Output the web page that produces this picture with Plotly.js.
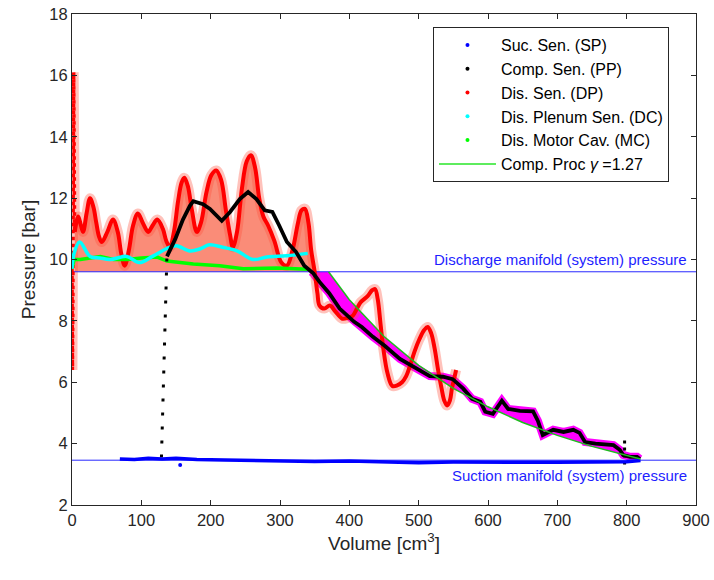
<!DOCTYPE html>
<html>
<head>
<meta charset="utf-8">
<script src="https://cdn.plot.ly/plotly-3.0.1.min.js"></script>
<style>html,body{margin:0;padding:0;background:#fff;}#chart{width:714px;height:580px;}</style>
</head>
<body>
<div id="chart"></div>
<script>
// ---- Data ----
// Discharge sensor (DP): spike at start, wave segment above manifold, tail below
var dpSpikeVol = [0, 0.6, 1.2, 1.8, 2.4, 3.0, 3.6, 4.2];
var dpSpikeP   = [9.7, 6.4, 8.5, 12.5, 16.1, 14.0, 11.5, 10.9];
var dpVolA = [4, 9, 13, 16, 21, 26, 31, 35, 39, 43, 51, 59, 66, 71, 76, 82, 88, 95, 102, 110, 116, 123, 131, 136, 141,
              147, 153, 158, 162, 167, 173, 180, 186, 194, 201, 208, 215, 222, 228, 232, 238, 245, 252, 258, 264, 270,
              276, 283, 292, 302, 310, 318, 326, 331, 336, 341, 345, 350];
var dpPA   = [10.9, 11.4, 11.1, 10.9, 11.5, 12.0, 11.7, 11.2, 10.75, 10.57, 10.9, 11.3, 10.9, 10.2, 9.8, 10.3, 11.1, 11.5, 11.2, 10.9, 11.1, 11.3, 11.0, 10.6, 10.4,
              10.9, 11.9, 12.5, 12.66, 12.4, 11.6, 10.9, 11.2, 12.2, 12.75, 12.9, 12.6, 11.6, 10.8, 10.4, 10.9, 12.3, 13.2, 13.4, 13.0, 12.0,
              11.4, 11.1, 10.6, 9.9, 9.8, 10.3, 11.2, 11.6, 11.65, 11.2, 10.3, 9.6];
var dpVolB = [350, 354, 357, 364, 372, 380, 390, 398, 405, 411, 416, 426, 433, 437, 441, 445, 449, 455, 462, 469, 476, 482, 487,
              494, 501, 508, 513, 518, 523, 528, 533, 537, 541, 545, 548, 551, 554];
var dpPB   = [9.6, 8.9, 8.5, 8.4, 8.5, 8.3, 8.07, 8.1, 8.17, 8.4, 8.6, 8.8, 9.0, 9.04, 8.7, 7.9, 7.1, 6.3, 5.88, 5.9, 6.0, 6.2, 6.5,
              7.0, 7.4, 7.7, 7.8, 7.6, 7.1, 6.4, 5.8, 5.4, 5.24, 5.4, 5.8, 6.1, 6.4];

// Discharge plenum sensor (DC)
var dcVol = [0, 3, 11, 26, 40, 55, 79, 97, 116, 141, 151, 170, 185, 198, 217, 238, 261, 281, 310, 340];
var dcP   = [9.7, 10.2, 10.57, 10.1, 10.05, 10.0, 10.1, 9.9, 10.1, 10.4, 10.45, 10.28, 10.35, 10.48, 10.4, 10.28, 10.0, 10.08, 10.12, 10.2];

// Discharge motor cavity (MC)
var mcVol = [0, 3, 12, 41, 60, 80, 100, 123, 137, 175, 213, 247, 295, 328, 340];
var mcP   = [9.7, 10.0, 10.0, 10.1, 10.0, 10.0, 10.05, 10.08, 9.95, 9.85, 9.8, 9.7, 9.72, 9.7, 9.68];

// Compression chamber sensor (PP)
var ppRiseVol = [129, 133, 137];
var ppRiseP   = [3.55, 7.0, 10.2];
var ppVol = [137, 149, 160, 170, 175, 189, 199, 216, 228, 242, 254, 266, 278, 289, 299, 310, 323, 335, 348,
             357, 371, 386, 407, 418, 434, 451, 473, 493, 516, 535, 549, 564, 577, 589, 596, 607, 620, 629, 646,
             665, 672, 679, 694, 709, 723, 732, 740, 755, 772, 781, 790, 795, 805, 815, 819];
var ppP   = [10.1, 10.67, 11.3, 11.75, 11.9, 11.8, 11.65, 11.26, 11.55, 11.97, 12.2, 11.97, 11.6, 11.55, 11.1, 10.57, 10.25, 9.8, 9.55,
             9.27, 8.9, 8.4, 7.97, 7.8, 7.48, 7.19, 6.76, 6.5, 6.2, 6.18, 6.1, 5.8, 5.46, 5.36, 5.04, 4.97, 5.4, 5.13, 5.07,
             5.05, 4.74, 4.28, 4.45, 4.38, 4.45, 4.35, 4.05, 4.0, 3.95, 3.95, 3.8, 3.63, 3.57, 3.57, 3.5];
var ppEndVol = [797, 797];
var ppEndP   = [4.1, 3.3];

// Suction sensor (SP)
var spVol = [69, 90, 110, 130, 150, 180, 220, 260, 300, 350, 400, 450, 500, 550, 600, 650, 700, 750, 800, 820];
var spP   = [3.5, 3.48, 3.52, 3.5, 3.52, 3.48, 3.47, 3.45, 3.44, 3.42, 3.43, 3.4, 3.38, 3.4, 3.39, 3.38, 3.39, 3.4, 3.41, 3.45];
var spOutVol = [156];
var spOutP   = [3.3];

// Compression process, gamma = 1.27
var cpVol = [370, 400, 450, 500, 550, 600, 650, 700, 750, 800, 820];
var cpP   = [9.6, 8.69, 7.49, 6.55, 5.80, 5.20, 4.69, 4.27, 3.91, 3.61, 3.5];

// Manifold (system) pressures
var manVol = [0, 900];
var dischargeP = [9.6, 9.6];
var suctionP = [3.46, 3.46];

var descStart = 18; // index in ppVol where the descent begins
var xTicks = [0, 100, 200, 300, 400, 500, 600, 700, 800, 900];
var yTicks = [2, 4, 6, 8, 10, 12, 14, 16, 18];

// ---- Build traces ----
var FONT = 'Liberation Sans, Arial, Helvetica, sans-serif';
var descVol = [345].concat(ppVol.slice(descStart));
var descP = [9.6].concat(ppP.slice(descStart));
var magX = descVol.concat(cpVol.slice().reverse());
var magY = descP.concat(cpP.slice().reverse());
var dpAllVol = dpVolA.concat(dpVolB.slice(1));
var dpAllP = dpPA.concat(dpPB.slice(1));

var traces = [];
traces.push({x: [dpVolA[0], dpVolA[dpVolA.length-1]], y: [dischargeP[0], dischargeP[0]], mode: 'lines',
  line: {width: 0, color: 'rgba(0,0,0,0)'}, showlegend: false, hoverinfo: 'skip'});
traces.push({x: dpVolA, y: dpPA, mode: 'lines', line: {width: 0, shape: 'spline', color: 'rgba(0,0,0,0)'},
  fill: 'tonexty', fillcolor: 'rgb(250,140,120)', showlegend: false, hoverinfo: 'skip'});
traces.push({x: magX, y: magY, mode: 'lines', line: {width: 0, color: 'rgba(0,0,0,0)'},
  fill: 'toself', fillcolor: 'rgb(255,0,255)', showlegend: false, hoverinfo: 'skip'});
traces.push({x: descVol, y: descP, mode: 'lines', line: {width: 8, color: 'rgb(255,0,255)'}, showlegend: false, hoverinfo: 'skip'});
traces.push({x: dpSpikeVol, y: dpSpikeP, mode: 'lines', line: {width: 10, color: 'rgba(255,80,60,0.35)'}, showlegend: false, hoverinfo: 'skip'});
traces.push({x: dpAllVol, y: dpAllP, mode: 'lines', line: {width: 10, shape: 'spline', color: 'rgba(255,80,60,0.35)'}, showlegend: false, hoverinfo: 'skip'});
traces.push({x: manVol, y: dischargeP, mode: 'lines', line: {width: 1, color: 'rgb(40,40,255)'}, showlegend: false, hoverinfo: 'skip'});
traces.push({x: manVol, y: suctionP, mode: 'lines', line: {width: 1, color: 'rgb(40,40,255)'}, showlegend: false, hoverinfo: 'skip'});
traces.push({x: dpSpikeVol, y: dpSpikeP, mode: 'lines', line: {width: 3.5, color: 'rgb(255,0,0)', dash: 'dot'}, showlegend: false});
traces.push({x: dpAllVol, y: dpAllP, mode: 'lines', line: {width: 4, shape: 'spline', color: 'rgb(255,0,0)'}, showlegend: false});
traces.push({x: mcVol, y: mcP, mode: 'lines', line: {width: 3.5, color: 'rgb(0,255,0)'}, showlegend: false});
traces.push({x: dcVol, y: dcP, mode: 'lines', line: {width: 3.5, shape: 'spline', color: 'rgb(0,255,255)'}, showlegend: false});
traces.push({x: ppRiseVol, y: ppRiseP, mode: 'lines', line: {width: 3, color: 'rgb(0,0,0)', dash: '3px,11px'}, showlegend: false});
traces.push({x: ppVol, y: ppP, mode: 'lines', line: {width: 3.8, color: 'rgb(0,0,0)'}, showlegend: false});
traces.push({x: ppEndVol, y: ppEndP, mode: 'lines', line: {width: 3, color: 'rgb(0,0,0)', dash: '3px,4px'}, showlegend: false});
traces.push({x: spVol, y: spP, mode: 'lines', line: {width: 3.5, color: 'rgb(0,0,255)'}, showlegend: false});
traces.push({x: spOutVol, y: spOutP, mode: 'markers', marker: {size: 4, color: 'rgb(0,0,255)'}, showlegend: false});
traces.push({x: cpVol, y: cpP, mode: 'lines', line: {width: 1.5, color: 'rgb(30,190,30)'}, showlegend: false});

var legNames = ['Suc. Sen. (SP)', 'Comp. Sen. (PP)', 'Dis. Sen. (DP)', 'Dis. Plenum Sen. (DC)', 'Dis. Motor Cav. (MC)'];
var legColors = ['rgb(0,0,255)', 'rgb(0,0,0)', 'rgb(255,0,0)', 'rgb(0,255,255)', 'rgb(0,255,0)'];
for (var i = 0; i < legNames.length; i++) {
  traces.push({x: [null], y: [null], mode: 'markers', name: legNames[i],
    marker: {size: 4, color: legColors[i]}});
}
traces.push({x: [null], y: [null], mode: 'lines', name: 'Comp. Proc <i>γ</i> =1.27',
  line: {width: 1.5, color: 'rgb(40,230,40)'}});

var axisCommon = {
  showgrid: false, zeroline: false, showline: true, linecolor: '#262626', linewidth: 1,
  mirror: 'ticks', ticks: 'inside', ticklen: 5, tickcolor: '#262626',
  tickfont: {family: FONT, size: 16.5, color: '#262626'}
};

var layout = {
  width: 714, height: 580,
  margin: {l: 72, r: 18, t: 14, b: 75},
  paper_bgcolor: '#fff', plot_bgcolor: '#fff',
  xaxis: Object.assign({}, axisCommon, {range: [0, 900], tickvals: xTicks, ticktext: xTicks.map(String),
    title: {text: 'Volume [cm<sup>3</sup>]', font: {family: FONT, size: 19, color: '#262626'}, standoff: 8}}),
  yaxis: Object.assign({}, axisCommon, {range: [2, 18], tickvals: yTicks, ticktext: yTicks.map(String),
    title: {text: 'Pressure [bar]', font: {family: FONT, size: 19, color: '#262626'}, standoff: 8}}),
  legend: {x: 0.5785, y: 0.9735, xanchor: 'left', yanchor: 'top', bgcolor: '#fff',
    bordercolor: '#262626', borderwidth: 1, itemwidth: 57, traceorder: 'normal',
    font: {family: FONT, size: 16, color: '#000'}},
  annotations: [
    {x: 890, y: 10.0, xref: 'x', yref: 'y', xanchor: 'right', yanchor: 'middle', showarrow: false,
     text: 'Discharge manifold (system) pressure', font: {family: FONT, size: 15, color: 'rgb(30,30,255)'}},
    {x: 890, y: 2.96, xref: 'x', yref: 'y', xanchor: 'right', yanchor: 'middle', showarrow: false,
     text: 'Suction manifold (system) pressure', font: {family: FONT, size: 15, color: 'rgb(30,30,255)'}}
  ]
};

Plotly.newPlot('chart', traces, layout, {staticPlot: true, displayModeBar: false});
</script>
</body>
</html>
